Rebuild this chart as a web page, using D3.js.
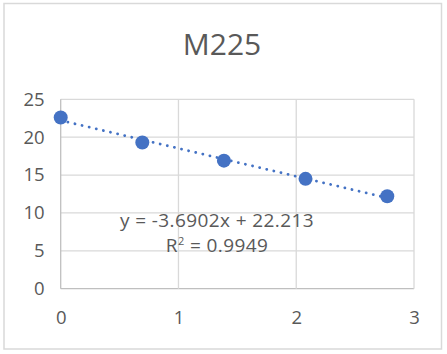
<!DOCTYPE html>
<html>
<head>
<meta charset="utf-8">
<script src="https://cdn.jsdelivr.net/npm/d3@7"></script>
<style>
  html, body { margin: 0; padding: 0; background: #fff; }
  svg { display: block; font-family: "Open Sans", sans-serif; }
</style>
</head>
<body>
<div id="chart"></div>
<script>
// Dados do gráfico
const chartTitle = 'M225';
const xValues = [0, 0.693, 1.386, 2.079, 2.773];
const yValues = [22.6, 19.3, 16.9, 14.5, 12.2];
const xTicks = [0, 1, 2, 3];
const yTicks = [0, 5, 10, 15, 20, 25];
const trendSlope = -3.6902;
const trendIntercept = 22.213;
const trendR2 = '0.9949';

// Dimensões
const W = 447, H = 354;
const margin = {top: 99.3, right: 33, bottom: 65.3, left: 60.7};
const width = W - margin.left - margin.right;
const height = H - margin.top - margin.bottom;

const svgRoot = d3.select('#chart').append('svg')
    .attr('width', W)
    .attr('height', H);

// Borda externa
svgRoot.append('rect')
    .attr('x', 4).attr('y', 3.5)
    .attr('width', 437.5).attr('height', 345.5)
    .attr('fill', '#fff')
    .attr('stroke', '#d9d9d9')
    .attr('stroke-width', 1.5);

// Título
svgRoot.append('text')
    .attr('x', 222)
    .attr('y', 55)
    .attr('text-anchor', 'middle')
    .style('font-size', '30px')
    .style('fill', '#595959')
    .text(chartTitle);

const svg = svgRoot.append('g')
    .attr('transform', `translate(${margin.left},${margin.top})`);

// Escalas
const x = d3.scaleLinear().domain([0, 3]).range([0, width]);
const y = d3.scaleLinear().domain([0, 25]).range([height, 0]);

// Linhas de grade
svg.append('g')
    .selectAll('line.hgrid')
    .data(yTicks)
    .enter()
    .append('line')
    .attr('class', 'hgrid')
    .attr('x1', 0).attr('x2', width)
    .attr('y1', d => y(d)).attr('y2', d => y(d))
    .style('stroke', d => d === 0 ? '#bfbfbf' : '#d9d9d9')
    .style('stroke-width', 1.3);

svg.append('g')
    .selectAll('line.vgrid')
    .data(xTicks)
    .enter()
    .append('line')
    .attr('class', 'vgrid')
    .attr('x1', d => x(d)).attr('x2', d => x(d))
    .attr('y1', 0).attr('y2', height)
    .style('stroke', d => d === 0 ? '#bfbfbf' : '#d9d9d9')
    .style('stroke-width', 1.3);

// Eixos (rótulos)
const yAxis = svg.append('g')
    .call(d3.axisLeft(y).tickValues(yTicks).tickSize(0).tickPadding(16).tickFormat(d3.format('d')));
const xAxis = svg.append('g')
    .attr('transform', `translate(0,${height})`)
    .call(d3.axisBottom(x).tickValues(xTicks).tickSize(0).tickPadding(22).tickFormat(d3.format('d')));
[yAxis, xAxis].forEach(a => {
    a.select('.domain').remove();
    a.selectAll('text')
        .style('font-family', '"Open Sans", sans-serif')
        .style('font-size', '18.5px')
        .style('fill', '#595959');
});

// Linha de tendência
const xExtent = d3.extent(xValues);
const trendData = xExtent.map(v => [v, trendSlope * v + trendIntercept]);
svg.append('path')
    .datum(trendData)
    .attr('d', d3.line().x(d => x(d[0])).y(d => y(d[1])))
    .style('fill', 'none')
    .style('stroke', '#4472c4')
    .style('stroke-width', 2.8)
    .style('stroke-linecap', 'round')
    .style('stroke-dasharray', '0.1 7.2');

// Pontos
svg.selectAll('circle.pt')
    .data(xValues.map((v, i) => ({x: v, y: yValues[i]})))
    .enter()
    .append('circle')
    .attr('class', 'pt')
    .attr('cx', d => x(d.x))
    .attr('cy', d => y(d.y))
    .attr('r', 7)
    .style('fill', '#4472c4');

// Equação
const eq = svgRoot.append('text')
    .attr('text-anchor', 'middle')
    .style('font-size', '19px')
    .style('letter-spacing', '0.4px')
    .style('fill', '#595959');
eq.append('tspan')
    .attr('x', 217).attr('y', 226.7)
    .text(`y = ${trendSlope}x + ${trendIntercept}`);
const l2 = eq.append('tspan')
    .attr('x', 217).attr('y', 251.7);
l2.append('tspan').text('R');
l2.append('tspan').attr('dy', -7).style('font-size', '11px').text('2');
l2.append('tspan').attr('dy', 7).text(` = ${trendR2}`);
</script>
</body>
</html>
